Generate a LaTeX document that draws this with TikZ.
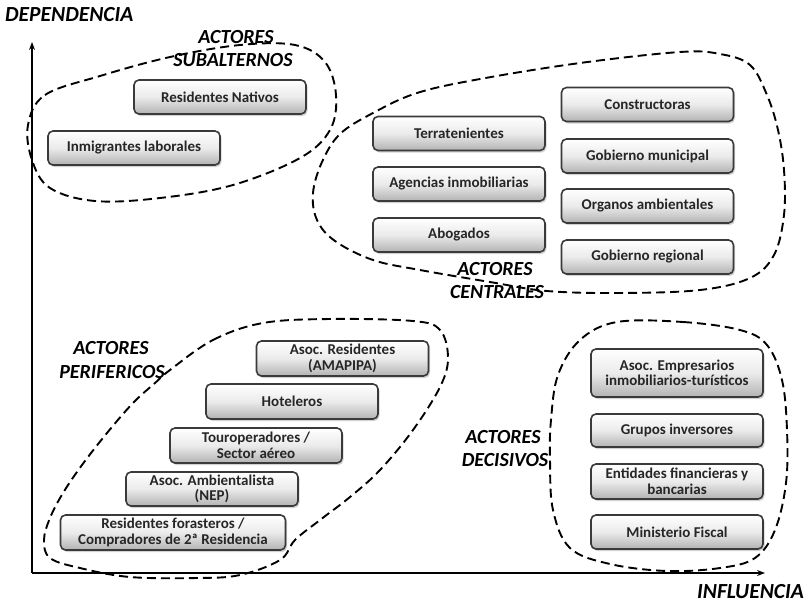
\documentclass[tikz,border=0pt]{standalone}
\usepackage{fontspec}
\setmainfont{Carlito}
\usetikzlibrary{shadows,arrows.meta}
\definecolor{txt}{HTML}{262626}
\definecolor{bord}{HTML}{3A3A3A}
\tikzset{
  actor/.style={draw=bord, line width=1.6pt, rounded corners=5pt,
    top color=white, bottom color=black!30, middle color=black!8,
    drop shadow={shadow xshift=1.5pt, shadow yshift=-2pt, opacity=0.35},
    font=\fontsize{15}{15.5}\selectfont\bfseries, text=txt, align=center,
    inner sep=0pt, minimum height=34pt},
  wide/.style={minimum width=172pt},
  grp/.style={font=\fontsize{20}{23}\selectfont\bfseries\itshape, text=black, align=center, inner sep=0pt},
  axlab/.style={font=\fontsize{21.5}{24}\selectfont\bfseries\itshape, text=black, inner sep=0pt},
  blob/.style={draw=black, line width=1.9pt, dash pattern=on 9pt off 5pt},
  axis/.style={draw=black, line width=1.5pt, -{Stealth[length=8pt,width=6pt]}}
}
\begin{document}
\begin{tikzpicture}[x=1pt,y=-1pt]
\useasboundingbox[fill=white] (0,0) rectangle (809,606);
% axes
\coordinate (o) at (32,573);
\coordinate (ytop) at (32,42);
\coordinate (xend) at (765,573);
\draw[axis] (o) -- (ytop);
\draw[axis] (o) -- (xend);
\node[axlab, anchor=west] (dep) at (5,15) {DEPENDENCIA};
\node[axlab, anchor=west] (inf) at (697,592) {INFLUENCIA};

% blobs
\draw[blob] plot[smooth cycle, tension=0.6] coordinates {
 (28,125) (45,95) (100,76) (170,57) (240,45) (295,45) (325,62) (336,95)
 (330,130) (300,158) (233,185) (160,198) (95,201) (50,188) (32,160)};
\draw[blob] plot[smooth cycle, tension=0.6] coordinates {
 (373,113) (417,93) (480,79) (580,63) (680,52) (720,54) (750,65) (767,95)
 (778,130) (784,170) (784,215) (774,255) (750,278) (700,290) (620,293)
 (547,291) (490,282) (420,270) (373,260) (335,241) (317,220) (313,193)
 (322,162) (340,134)};
\draw[blob] plot[smooth cycle, tension=0.6] coordinates {
 (170,370) (213,340) (263,323) (330,319) (413,321) (440,330) (448,358)
 (440,387) (413,430) (380,470) (350,497) (320,520) (295,540) (280,560)
 (240,575) (197,578) (130,577) (80,568) (50,558) (44,540) (50,518)
 (63,493) (82,465) (107,433) (133,403) (155,383)};
\draw[blob] plot[smooth cycle, tension=0.6] coordinates {
 (617,322) (683,322) (740,330) (767,345) (782,380) (787,430) (786,483)
 (775,530) (755,558) (720,568) (667,571) (610,564) (570,548) (553,510)
 (550,460) (551,420) (558,375) (580,340)};

% group labels
\node[grp] (sub1) at (236,37) {ACTORES};
\node[grp] (sub2) at (233,60) {SUBALTERNOS};
\node[grp] (cen1) at (495,269) {ACTORES};
\node[grp] (cen2) at (497,292) {CENTRALES};
\node[grp] (per1) at (111,348) {ACTORES};
\node[grp] (per2) at (112,372) {PERIFERICOS};
\node[grp] (dec1) at (503,437) {ACTORES};
\node[grp] (dec2) at (505,460) {DECISIVOS};

% subalternos
\node[actor, wide] (resnat) at (220,97) {Residentes Nativos};
\node[actor, wide] (inmig) at (134,148) {Inmigrantes laborales};
% centrales
\node[actor, wide] (terr) at (459,133.5) {Terratenientes};
\node[actor, wide] (agen) at (459,184) {Agencias inmobiliarias};
\node[actor, wide] (abog) at (459,235) {Abogados};
\node[actor, wide] (cons) at (647.5,104.5) {Constructoras};
\node[actor, wide] (gobm) at (647.5,156) {Gobierno municipal};
\node[actor, wide] (orga) at (647.5,206) {Organos ambientales};
\node[actor, wide] (gobr) at (647.5,257) {Gobierno regional};
% perifericos
\node[actor, wide, minimum height=35pt] (amap) at (342.5,358.5) {Asoc. Residentes\\(AMAPIPA)};
\node[actor, wide, minimum height=35pt] (hote) at (292,401.5) {Hoteleros};
\node[actor, wide, minimum height=35pt] (tour) at (256,445.5) {Touroperadores /\\Sector aéreo};
\node[actor, wide, minimum height=34pt] (nep) at (212,489) {Asoc. Ambientalista\\(NEP)};
\node[actor, minimum width=225pt, minimum height=35pt] (fora) at (173,532.5) {Residentes forasteros /\\Compradores de 2ª Residencia};
% decisivos
\node[actor, wide, minimum height=48pt] (asem) at (677,373) {Asoc. Empresarios\\inmobiliarios-turísticos};
\node[actor, wide, minimum height=33pt] (grup) at (677,430.5) {Grupos inversores};
\node[actor, wide, minimum height=35pt] (enti) at (677,481.5) {Entidades financieras y\\bancarias};
\node[actor, wide, minimum height=34pt] (mini) at (677,532) {Ministerio Fiscal};
\end{tikzpicture}
\end{document}
